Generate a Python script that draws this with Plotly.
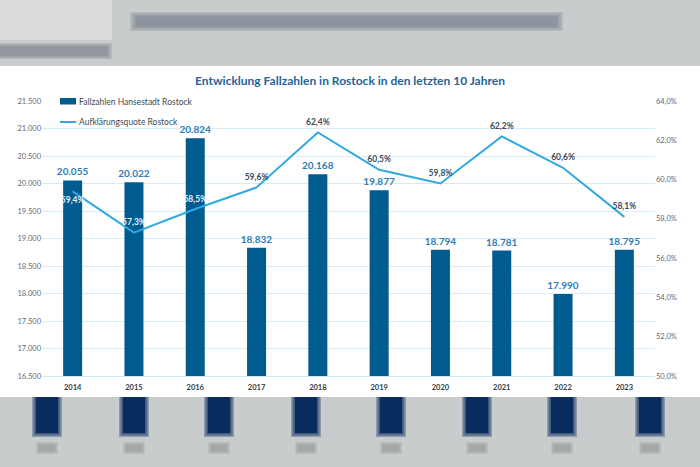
import plotly.graph_objects as go

years = ["2014", "2015", "2016", "2017", "2018", "2019", "2020", "2021", "2022", "2023"]
fallzahlen = [20055, 20022, 20824, 18832, 20168, 19877, 18794, 18781, 17990, 18795]
quote = [59.4, 57.3, 58.5, 59.6, 62.4, 60.5, 59.8, 62.2, 60.6, 58.1]
quote_pos = ["bottom center", "top center", "top center", "top center", "top center",
             "top center", "top center", "top center", "top center", "top center"]
quote_col = ["#E8F2FA", "#E8F2FA", "#E8F2FA", "#3B4B5C", "#3B4B5C",
             "#3B4B5C", "#3B4B5C", "#3B4B5C", "#3B4B5C", "#3B4B5C"]
series_names = ["Fallzahlen Hansestadt Rostock", "Aufklärungsquote Rostock"]
BAR_COL = "#005B8F"
LINE_COL = "#2FA8E4"

W, H = 700, 467
L, R, T, B = 42, 45, 101, 91
PW, PH = W - L - R, H - T - B


def px(x):
    return (x - L) / PW


def py(y):
    return (H - B - y) / PH


FONT = "Lato"

fig = go.Figure()
fig.add_trace(go.Bar(
    x=years, y=fallzahlen, name=series_names[0],
    marker=dict(color=BAR_COL, line=dict(width=0)),
    texttemplate="<b>%{y:,.0f}</b>", textposition="outside", constraintext="none",
    textfont=dict(family=FONT, size=10, color="#2E7DB5"),
    cliponaxis=False, showlegend=False,
))
fig.add_trace(go.Scatter(
    x=years, y=quote, name=series_names[1], yaxis="y2",
    mode="lines+markers+text", line=dict(color=LINE_COL, width=2),
    marker=dict(size=7, color="rgba(0,0,0,0)", line=dict(width=0)),
    texttemplate="<b>%{y:.1f}%</b>", textposition=quote_pos,
    textfont=dict(family=FONT, size=8.5, color=quote_col),
    cliponaxis=False, showlegend=False,
))


def rect(x0, x1, y0, y1, color, op):
    return dict(type="rect", xref="paper", yref="paper", x0=px(x0), x1=px(x1), y0=py(y1), y1=py(y0),
                fillcolor=color, opacity=op, line=dict(width=0), layer="below")


shapes = []
shapes.append(rect(0, W, 66, 397, "white", 1))
# blurred surroundings (decorative background photo)
shapes.append(rect(0, 112, 0, 40, "#E2E3E3", 0.7))
for k in range(4):
    shapes.append(rect(130 + k * 2, 563 - k * 2, 12 + k * 1.5, 31 - k * 1.5, "#66707E", 0.2))
for k in range(3):
    shapes.append(rect(0, 112 - k * 2, 43 + k * 1.5, 59 - k * 1.5, "#5E6670", 0.2))
for c in [47, 134, 219, 306, 391, 477, 562, 650]:
    for k in range(4):
        shapes.append(rect(c - 15 + k * 1.3, c + 15 - k * 1.3, 397, 437 - k * 1.3, "#06295C", 0.3 if k < 3 else 0.95))
    for k in range(3):
        shapes.append(rect(c - 11 + k * 1.5, c + 11 - k * 1.5, 442 + k * 1.2, 454 - k * 1.2, "#8A8E90", 0.25))

# legend samples
shapes.append(rect(60, 76, 98, 104.5, BAR_COL, 1))
shapes.append(dict(type="line", xref="paper", yref="paper", x0=px(60), x1=px(76), y0=py(122), y1=py(122),
                   line=dict(color=LINE_COL, width=2)))

annotations = [
    dict(text=series_names[0], xref="paper", yref="paper", x=px(77), y=py(101.5), xanchor="left",
         yanchor="middle", showarrow=False, font=dict(family=FONT, size=8.5, color="#404A55")),
    dict(text=series_names[1], xref="paper", yref="paper", x=px(77), y=py(122), xanchor="left",
         yanchor="middle", showarrow=False, font=dict(family=FONT, size=8.5, color="#404A55")),
]

fig.update_layout(
    width=W, height=H,
    margin=dict(l=L, r=R, t=T, b=B, autoexpand=False),
    paper_bgcolor="#C9CCCC", plot_bgcolor="white",
    separators=",.",
    font=dict(family=FONT, size=8, color="#5A6B7C"),
    title=dict(text="<b>Entwicklung Fallzahlen in Rostock in den letzten 10 Jahren</b>",
               x=0.5, xanchor="center", y=1 - 81 / H, yanchor="middle",
               font=dict(family=FONT, size=12, color="#1F639A")),
    bargap=0.69,
    xaxis=dict(type="category", range=[-0.5, len(years) - 0.5], showgrid=False, showline=True,
               linecolor="#D3E6F2", linewidth=1, ticks="", ticklabelstandoff=4,
               tickfont=dict(family=FONT, size=7.5, color="#333C46", weight="bold")),
    yaxis=dict(range=[16500, 21500], dtick=500, tickformat=",.0f", showgrid=True,
               gridcolor="#D8ECF7", gridwidth=1, zeroline=False, ticks="",
               tickfont=dict(family=FONT, size=7.5, color="#5A6B7C")),
    yaxis2=dict(range=[50, 64], dtick=2, tickformat=".1f", ticksuffix="%", overlaying="y", side="right",
                showgrid=False, zeroline=False, ticks="",
                tickfont=dict(family=FONT, size=7.5, color="#5A6B7C")),
    shapes=shapes,
    annotations=annotations,
)

fig.write_html("out.html")
